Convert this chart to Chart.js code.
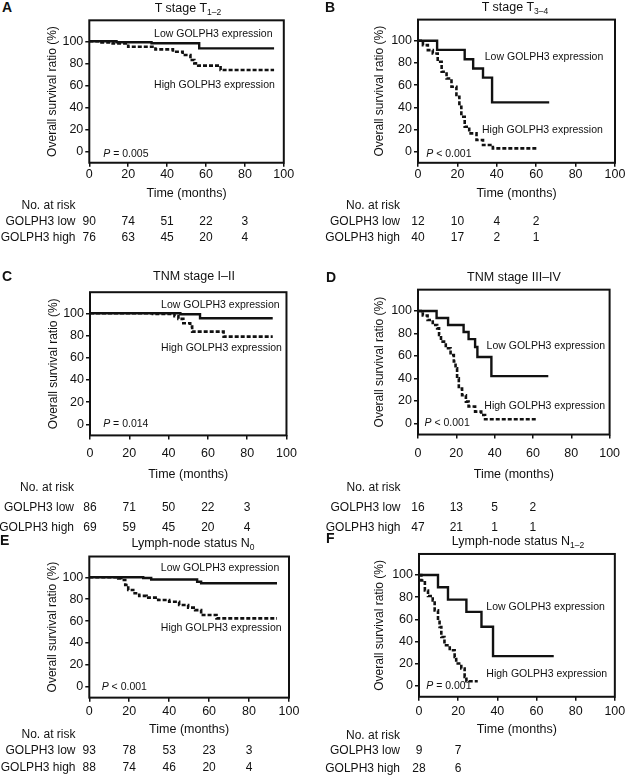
<!DOCTYPE html>
<html><head><meta charset="utf-8">
<script src="https://cdn.jsdelivr.net/npm/chart.js@4.4.1/dist/chart.umd.min.js"></script>
<style>
html,body{margin:0;padding:0;background:#fff;}
body{width:626px;height:777px;position:relative;overflow:hidden;font-family:"Liberation Sans",Arial,Helvetica,sans-serif;color:#111;}
canvas{position:absolute;}
.abs{position:absolute;white-space:nowrap;line-height:1;}
.letter{font-weight:bold;font-size:14px;transform:translate(0,-50%);}
.title{font-size:12.5px;transform:translate(-50%,-50%);}
.title sub{font-size:8.5px;vertical-align:-3px;line-height:1;}
.rl{font-size:12px;transform:translate(-100%,-50%);}
.rn{font-size:12px;transform:translate(-50%,-50%);}
</style></head>
<body>
<script>
// ---------- shared axis / label values ----------
const xTickValues = [0, 20, 40, 60, 80, 100];
const yTickValues = [0, 20, 40, 60, 80, 100];
const riskTimes = [0, 20, 40, 60, 80];
const seriesLabels = ['Low GOLPH3 expression', 'High GOLPH3 expression'];
const rowLabels = ['GOLPH3 low', 'GOLPH3 high'];

// ---------- Panel A: T stage T1-2 ----------
const timeLowA  = [0, 14, 32, 56.5, 95];
const survLowA  = [100, 99.2, 98.2, 93.6, 93.6];
const timeHighA = [0, 5, 12, 20, 34, 43, 48, 52, 54, 56, 67.5, 95];
const survHighA = [100, 99, 98, 95, 92.7, 90.6, 87.6, 83, 80, 78, 74, 74];
const riskLowA  = [90, 74, 51, 22, 3];
const riskHighA = [76, 63, 45, 20, 4];

// ---------- Panel B: T stage T3-4 ----------
const timeLowB  = [0, 9.7, 23.7, 28, 33, 37.6, 66.6];
const survLowB  = [100, 91.7, 83.3, 75, 66.7, 44.4, 44.4];
const timeHighB = [0, 2.5, 5, 7.5, 10, 12, 14.5, 17, 19.5, 21, 22, 23.7, 26, 29.7, 33, 38, 61];
const survHighB = [100, 96, 91.5, 88.5, 81, 72, 66, 58.5, 49.5, 40.5, 31.5, 22.5, 16.5, 10.5, 6, 3, 3];
const riskLowB  = [12, 10, 4, 2];
const riskHighB = [40, 17, 2, 1];

// ---------- Panel C: TNM stage I-II ----------
const timeLowC  = [0, 46, 56, 93];
const survLowC  = [100, 99.2, 95.5, 95.5];
const timeHighC = [0, 32, 43, 45, 47.5, 51, 52, 68, 93];
const survHighC = [100, 99.4, 97.5, 95, 91, 88, 83.5, 79, 79];
const riskLowC  = [86, 71, 50, 22, 3];
const riskHighC = [69, 59, 45, 20, 4];

// ---------- Panel D: TNM stage III-IV ----------
const timeLowD  = [0, 9.7, 15.7, 23.8, 26.4, 29.8, 31, 38.3, 68];
const survLowD  = [100, 93.8, 87.5, 81.3, 75, 68, 59, 42, 42];
const timeHighD = [0, 2.5, 5, 7.7, 10, 11, 12, 14.5, 17, 18.7, 19.6, 20.4, 21.3, 23, 25, 26.4, 29.8, 33, 35, 62];
const survHighD = [100, 96, 92, 87.5, 84.5, 78.6, 72.7, 66.8, 60.8, 55, 49, 40, 31, 25, 19.3, 15, 10.4, 7.4, 3.6, 3.6];
const riskLowD  = [16, 13, 5, 2];
const riskHighD = [47, 21, 1, 1];

// ---------- Panel E: Lymph-node status N0 ----------
const timeLowE  = [0, 27, 31, 54, 56, 94];
const survLowE  = [100, 99.4, 98, 96, 94.5, 94.5];
const timeHighE = [0, 14.5, 16, 18, 19.5, 22, 25, 28.7, 34.5, 40, 45, 49.5, 53, 56, 63.7, 94];
const survHighE = [100, 99, 97.5, 93, 88.4, 85.4, 83, 81.4, 79.3, 77.7, 74.7, 72.3, 70, 65.5, 62.5, 62.5];
const riskLowE  = [93, 78, 53, 23, 3];
const riskHighE = [88, 74, 46, 20, 4];

// ---------- Panel F: Lymph-node status N1-2 ----------
const timeLowF  = [0, 9.7, 14.8, 24.2, 31.9, 37.8, 68.8];
const survLowF  = [100, 88.9, 77.8, 66.7, 53.3, 26.7, 26.7];
const timeHighF = [0, 1.2, 3, 4.6, 7, 8, 9.7, 10.5, 11.4, 13, 15.7, 18.2, 19, 21.6, 23.3, 24.2, 30];
const survHighF = [100, 95, 86, 81, 77, 68, 59, 53, 44, 36.5, 32, 26, 20, 15.6, 8, 4, 4];
const riskLowF  = [9, 7];
const riskHighF = [28, 6];

// ---------- titles and p-values ----------
const panelLetters = ['A', 'B', 'C', 'D', 'E', 'F'];
const titleMain = ['T stage T', 'T stage T', 'TNM stage I–II', 'TNM stage III–IV', 'Lymph-node status N', 'Lymph-node status N'];
const titleSub  = ['1–2', '3–4', '', '', '0', '1–2'];
const pText     = [' = 0.005', ' < 0.001', ' = 0.014', ' < 0.001', ' < 0.001', ' = 0.001'];

// ---------- layout (pixel geometry of each panel) ----------
const Y_MIN = -10, Y_MAX = 119;
const geo = [
  {boxL:89.3, boxR:283.8, y100:41.3, y0:151.7, tickC:175, timeC:192.7, yTitleC:52, letter:[2,7], title:[188,9], nr:205, low:221, high:237, labelR:75.5,
   ann:{low:[33.3,106.3], high:[33.3,60.4], p:[7.2,-2.4]}},
  {boxL:418, boxR:615, y100:40.7, y0:151.7, tickC:175, timeC:192.7, yTitleC:379, letter:[325,7], title:[515,8], nr:205, low:221, high:237, labelR:400,
   ann:{low:[33.9,85.6], high:[32.5,19.5], p:[4.2,-2.4]}},
  {boxL:90, boxR:290, y100:313.3, y0:424.3, tickC:454, timeC:474, yTitleC:53, letter:[2,276], title:[194,276], nr:487, low:507, high:527, labelR:74,
   ann:{low:[36.2,107.5], high:[36.2,69], p:[6.7,0]}},
  {boxL:418, boxR:614, y100:311, y0:423.3, tickC:454, timeC:474, yTitleC:379.5, letter:[326,277], title:[514,277], nr:487, low:507, high:527, labelR:400.5,
   ann:{low:[35.8,68.8], high:[34.6,15.4], p:[3.4,0]}},
  {boxL:89.3, boxR:289, y100:577.3, y0:686.7, tickC:711.7, timeC:729, yTitleC:52, letter:[0,540], title:[193,544], nr:734, low:750, high:767, labelR:75.5,
   ann:{low:[35.8,108.8], high:[35.8,54], p:[6.2,0]}},
  {boxL:419, boxR:615, y100:575, y0:685.7, tickC:712, timeC:729, yTitleC:379, letter:[326,538], title:[518,542], nr:735, low:750, high:768, labelR:400,
   ann:{low:[34.4,71], high:[34.4,10.2], p:[3.7,0]}}
];

const curves = [
  [[timeLowA, survLowA], [timeHighA, survHighA], [riskLowA, riskHighA]],
  [[timeLowB, survLowB], [timeHighB, survHighB], [riskLowB, riskHighB]],
  [[timeLowC, survLowC], [timeHighC, survHighC], [riskLowC, riskHighC]],
  [[timeLowD, survLowD], [timeHighD, survHighD], [riskLowD, riskHighD]],
  [[timeLowE, survLowE], [timeHighE, survHighE], [riskLowE, riskHighE]],
  [[timeLowF, survLowF], [timeHighF, survHighF], [riskLowF, riskHighF]]
];

Chart.defaults.font.family = '"Liberation Sans", Arial, Helvetica, sans-serif';
Chart.defaults.color = '#111';

const INK = '#111';
const framePlugin = {
  id: 'frame',
  afterDatasetsDraw(chart, args, opts) {
    const {ctx, chartArea: a, scales} = chart;
    ctx.save();
    ctx.strokeStyle = INK; ctx.lineWidth = 2;
    ctx.strokeRect(a.left, a.top, a.right - a.left, a.bottom - a.top);
    ctx.fillStyle = INK; ctx.textBaseline = 'middle'; ctx.textAlign = 'left';
    const fam = '"Liberation Sans", Arial, sans-serif';
    ctx.font = '10.5px ' + fam;
    ctx.fillText(seriesLabels[0], scales.x.getPixelForValue(opts.ann.low[0]), scales.y.getPixelForValue(opts.ann.low[1]));
    ctx.fillText(seriesLabels[1], scales.x.getPixelForValue(opts.ann.high[0]), scales.y.getPixelForValue(opts.ann.high[1]));
    const px = scales.x.getPixelForValue(opts.ann.p[0]), py = scales.y.getPixelForValue(opts.ann.p[1]);
    ctx.font = 'italic 10.5px ' + fam;
    ctx.fillText('P', px, py);
    const w = ctx.measureText('P').width;
    ctx.font = '10.5px ' + fam;
    ctx.fillText(opts.p, px + w, py);
    ctx.restore();
  }
};

function addText(cls, html, x, y) {
  const d = document.createElement('div');
  d.className = 'abs ' + cls;
  d.innerHTML = html;
  d.style.left = x + 'px'; d.style.top = y + 'px';
  document.body.appendChild(d);
}
const toPts = (pair) => pair[0].map((t, i) => ({x: t, y: pair[1][i]}));

geo.forEach((g, k) => {
  const [low, high, risk] = curves[k];
  const ppu = (g.y0 - g.y100) / 100;
  const boxT = g.y100 - (Y_MAX - 100) * ppu;
  const boxB = g.y0 - Y_MIN * ppu;
  const yTitleSize = 12;
  const cL = Math.round(g.yTitleC - 4 - yTitleSize * 1.2 / 2);
  const cT = Math.floor(boxT) - 10;
  const cR = Math.ceil(g.boxR) + 14;
  const cB = Math.ceil(g.timeC + 4 + 12.5 * 1.2 / 2);
  const W = cR - cL, H = cB - cT;
  const cv = document.createElement('canvas');
  cv.width = W; cv.height = H;
  cv.style.left = cL + 'px'; cv.style.top = cT + 'px';
  cv.style.width = W + 'px'; cv.style.height = H + 'px';
  document.body.appendChild(cv);
  const yW = g.boxL - cL;
  const xH = cB - boxB;
  const tickPad = g.tickC - boxB - 4 - 12.5 * 1.2 / 2;

  const chart = new Chart(cv, {
    type: 'line',
    data: {datasets: [
      {label: seriesLabels[0], data: toPts(low), stepped: 'before', borderColor: INK, borderWidth: 2.4, pointRadius: 0, fill: false},
      {label: seriesLabels[1], data: toPts(high), stepped: 'before', borderColor: INK, borderWidth: 2.6, borderDash: [4, 2], pointRadius: 0, fill: false}
    ]},
    options: {
      responsive: false, animation: false, devicePixelRatio: 1,
      layout: {padding: {top: boxT - cT, right: cR - g.boxR, left: 0, bottom: 0}},
      plugins: {legend: {display: false}, tooltip: {enabled: false},
        frame: {ann: g.ann, p: pText[k]}},
      scales: {
        x: {type: 'linear', min: 0, max: 100,
          afterFit(s) { s.height = xH; },
          afterBuildTicks(s) { s.ticks = xTickValues.map(v => ({value: v})); },
          grid: {display: true, drawOnChartArea: false, drawTicks: true, tickLength: 4, color: INK, lineWidth: 1.5},
          border: {display: false},
          ticks: {padding: tickPad, font: {size: 12.5}, color: INK, maxRotation: 0, autoSkip: false},
          title: {display: true, text: 'Time (months)', font: {size: 12.5}, color: INK, padding: {top: 0, bottom: 4}}},
        y: {type: 'linear', min: Y_MIN, max: Y_MAX,
          afterFit(s) { s.width = yW; },
          afterBuildTicks(s) { s.ticks = yTickValues.map(v => ({value: v})); },
          grid: {display: true, drawOnChartArea: false, drawTicks: true, tickLength: 4, color: INK, lineWidth: 1.5},
          border: {display: false},
          ticks: {padding: 2, font: {size: 12.5}, color: INK, autoSkip: false},
          title: {display: true, text: 'Overall survival ratio (%)', font: {size: yTitleSize}, color: INK, padding: {top: 4, bottom: 0}}}
      }
    },
    plugins: [framePlugin]
  });

  // panel letter and title
  addText('letter', panelLetters[k], g.letter[0], g.letter[1]);
  addText('title', titleMain[k] + (titleSub[k] ? '<sub>' + titleSub[k] + '</sub>' : ''), g.title[0], g.title[1]);

  // number-at-risk table, columns placed through the chart's x scale
  addText('rl', 'No. at risk', g.labelR, g.nr);
  addText('rl', rowLabels[0], g.labelR, g.low);
  addText('rl', rowLabels[1], g.labelR, g.high);
  const xs = chart.scales.x;
  riskTimes.forEach((t, i) => {
    const px = cL + xs.getPixelForValue(t);
    if (risk[0][i] !== undefined) addText('rn', String(risk[0][i]), px, g.low);
    if (risk[1][i] !== undefined) addText('rn', String(risk[1][i]), px, g.high);
  });
});
</script>
</body></html>
